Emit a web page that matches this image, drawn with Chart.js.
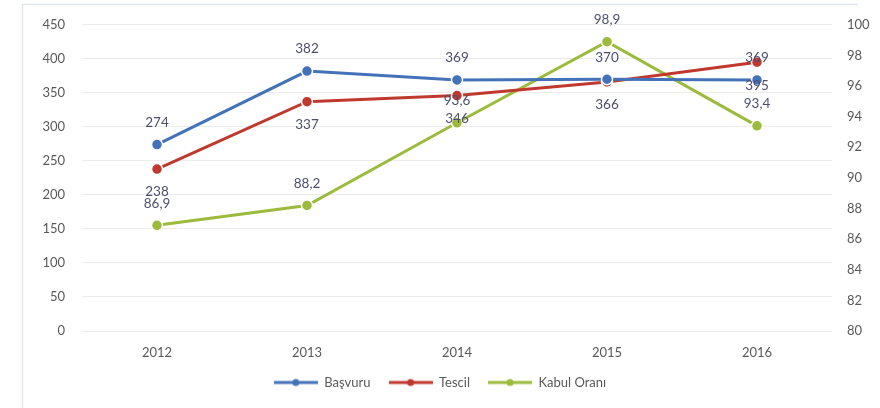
<!DOCTYPE html>
<html>
<head>
<meta charset="utf-8">
<script src="https://cdn.jsdelivr.net/npm/chart.js@4"></script>
<style>
html,body{margin:0;padding:0;background:#fff;}
#wrap{width:880px;height:408px;position:relative;}
</style>
</head>
<body>
<div id="wrap"><canvas id="c" width="880" height="408"></canvas></div>
<script>
const years = ["2012","2013","2014","2015","2016"];
const basvuru = [274, 382, 369, 370, 369];
const tescil = [238, 337, 346, 366, 395];
const kabulOrani = [86.9, 88.2, 93.6, 98.9, 93.4];
const leftTicks = [0, 50, 100, 150, 200, 250, 300, 350, 400, 450];
const rightTicks = [80, 82, 84, 86, 88, 90, 92, 94, 96, 98, 100];

const BLUE = "#4472b8", RED = "#c0392f", GREEN = "#9cbb3c";
const FONT = "Lato, 'Open Sans', sans-serif";

function legendIcon(color){
  const cv = document.createElement('canvas');
  cv.width = 44; cv.height = 10;
  const g = cv.getContext('2d');
  g.strokeStyle = color; g.lineWidth = 3;
  g.beginPath(); g.moveTo(0,5); g.lineTo(44,5); g.stroke();
  g.fillStyle = color; g.beginPath(); g.arc(22,5,3.5,0,Math.PI*2); g.fill();
  return cv;
}

const labelPlugin = {
  id: 'valLabels',
  afterDatasetsDraw(chart){
    const ctx = chart.ctx;
    ctx.save();
    ctx.font = "13.5px " + FONT;
    ctx.fillStyle = "#4d4f6e";
    ctx.textAlign = "center";
    ctx.textBaseline = "middle";
    chart.data.datasets.forEach((ds, di) => {
      const meta = chart.getDatasetMeta(di);
      meta.data.forEach((pt, i) => {
        const v = ds.data[i];
        const txt = String(v).replace('.', ',');
        const off = ds.labelPos === 'below' ? 23 : -22;
        ctx.fillText(txt, pt.x, pt.y + off);
      });
    });
    ctx.restore();
  }
};

const framePlugin = {
  id: 'frame',
  beforeDraw(chart){
    const ctx = chart.ctx;
    ctx.save();
    ctx.strokeStyle = "#e4e7ee";
    ctx.lineWidth = 1.5;
    ctx.beginPath();
    ctx.moveTo(22.5, 420); ctx.lineTo(22.5, 4.5); ctx.lineTo(858, 4.5);
    ctx.stroke();
    ctx.restore();
  }
};

const mk = (label, data, color, axis, pos) => ({
  label, data, yAxisID: axis, labelPos: pos,
  borderColor: color, backgroundColor: color,
  pointBackgroundColor: color, pointBorderColor: "#ffffff",
  pointBorderWidth: 1.5, pointRadius: 5.5, borderWidth: 3,
  tension: 0, pointStyle: 'circle'
});

new Chart(document.getElementById('c'), {
  type: 'line',
  data: {
    labels: years,
    datasets: [
      mk("Başvuru", basvuru, BLUE, 'y', 'above'),
      mk("Tescil", tescil, RED, 'y', 'below'),
      mk("Kabul Oranı", kabulOrani, GREEN, 'y1', 'above')
    ]
  },
  options: {
    responsive: false,
    animation: false,
    devicePixelRatio: 1,
    layout: { padding: { top: 24, left: 0, right: 0, bottom: 9 } },
    plugins: {
      tooltip: { enabled: false },
      legend: {
        position: 'bottom',
        labels: {
          usePointStyle: true,
          pointStyleWidth: 44,
          font: { family: FONT, size: 13 },
          color: "#595959",
          padding: 18,
          generateLabels(chart){
            return chart.data.datasets.map((ds, i) => ({
              text: ds.label,
              pointStyle: legendIcon(ds.borderColor),
              fillStyle: ds.borderColor,
              strokeStyle: ds.borderColor,
              lineWidth: 0,
              hidden: false,
              datasetIndex: i,
              fontColor: "#595959"
            }));
          }
        }
      }
    },
    scales: {
      x: {
        offset: true,
        grid: { display: false, drawTicks: false },
        border: { display: false },
        ticks: { font: { family: FONT, size: 13 }, color: "#595959", padding: 14 },
        afterFit(s){ s.height = 27; }
      },
      y: {
        position: 'left',
        min: 0, max: 450,
        afterBuildTicks(s){ s.ticks = leftTicks.map(v => ({ value: v })); },
        grid: { color: "#ececec", drawTicks: false, lineWidth: 1 },
        border: { display: false },
        ticks: { font: { family: FONT, size: 13 }, color: "#595959", padding: 17 },
        afterFit(s){ s.width = 82; }
      },
      y1: {
        position: 'right',
        min: 80, max: 100,
        afterBuildTicks(s){ s.ticks = rightTicks.map(v => ({ value: v })); },
        grid: { display: false, drawTicks: false },
        border: { display: false },
        ticks: { font: { family: FONT, size: 13 }, color: "#595959", padding: 15 },
        afterFit(s){ s.width = 48; }
      }
    }
  },
  plugins: [labelPlugin, framePlugin]
});
</script>
</body>
</html>
